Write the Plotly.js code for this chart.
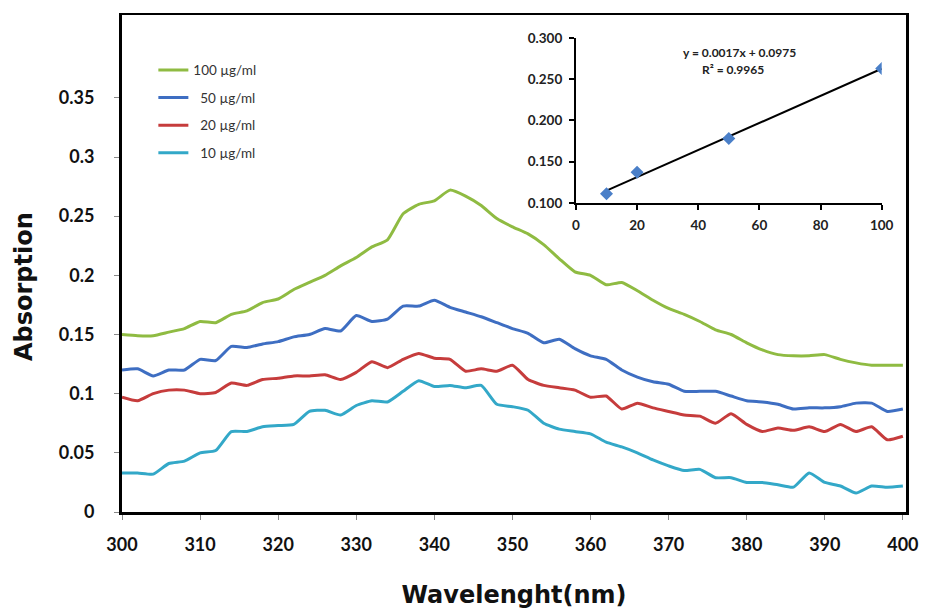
<!DOCTYPE html>
<html>
<head>
<meta charset="utf-8">
<script src="https://cdn.plot.ly/plotly-3.0.1.min.js"></script>
<style>html,body{margin:0;padding:0;background:#fff;}#chart{width:925px;height:614px;}</style>
</head>
<body>
<div id="chart"></div>
<script>
// Wavelength grid (nm)
var wavelength = [300,302,304,306,308,310,312,314,316,318,320,322,324,326,328,330,332,334,336,338,340,342,344,346,348,350,352,354,356,358,360,362,364,366,368,370,372,374,376,378,380,382,384,386,388,390,392,394,396,398,400];

var abs100 = [0.150,0.149,0.149,0.152,0.155,0.161,0.160,0.167,0.170,0.177,0.180,0.188,0.194,0.200,0.208,0.215,0.224,0.230,0.252,0.260,0.263,0.272,0.267,0.259,0.248,0.241,0.235,0.226,0.214,0.203,0.200,0.192,0.194,0.187,0.179,0.172,0.167,0.161,0.154,0.150,0.143,0.137,0.133,0.132,0.132,0.133,0.129,0.126,0.124,0.124,0.124];
var abs50 = [0.120,0.121,0.115,0.120,0.120,0.129,0.128,0.140,0.139,0.142,0.144,0.148,0.150,0.155,0.153,0.166,0.161,0.163,0.174,0.174,0.179,0.173,0.169,0.165,0.160,0.155,0.151,0.143,0.146,0.138,0.132,0.129,0.120,0.114,0.110,0.108,0.102,0.102,0.102,0.098,0.094,0.093,0.091,0.087,0.088,0.088,0.089,0.092,0.092,0.085,0.087];
var abs20 = [0.097,0.094,0.100,0.103,0.103,0.100,0.101,0.109,0.107,0.112,0.113,0.115,0.115,0.116,0.112,0.118,0.127,0.122,0.129,0.134,0.130,0.129,0.119,0.121,0.119,0.124,0.112,0.107,0.105,0.103,0.097,0.098,0.087,0.092,0.088,0.085,0.082,0.081,0.075,0.083,0.074,0.068,0.071,0.069,0.072,0.068,0.074,0.068,0.072,0.061,0.064];
var abs10 = [0.033,0.033,0.032,0.041,0.043,0.050,0.052,0.068,0.068,0.072,0.073,0.074,0.085,0.086,0.082,0.090,0.094,0.093,0.102,0.111,0.106,0.107,0.105,0.107,0.091,0.089,0.086,0.075,0.070,0.068,0.066,0.059,0.055,0.050,0.044,0.039,0.035,0.036,0.029,0.029,0.025,0.025,0.023,0.021,0.033,0.025,0.022,0.016,0.022,0.021,0.022];

var seriesNames = ["100\u00a0µg/ml", "\u00a0\u00a050\u00a0µg/ml", "\u00a0\u00a020\u00a0µg/ml", "\u00a0\u00a010\u00a0µg/ml"];

// Inset calibration data
var concentration = [10, 20, 50, 100];
var peakAbs = [0.111, 0.137, 0.178, 0.263];

var yTickVals = [0, 0.05, 0.1, 0.15, 0.2, 0.25, 0.3, 0.35];
var yTickText = ["0", "0.05", "0.1", "0.15", "0.2", "0.25", "0.3", "0.35"];
var xTickVals = [300,310,320,330,340,350,360,370,380,390,400];

// least-squares fit for the inset trendline
function fit(xs, ys) {
  var n = xs.length, mx = 0, my = 0;
  for (var i = 0; i < n; i++) { mx += xs[i]; my += ys[i]; }
  mx /= n; my /= n;
  var sxx = 0, sxy = 0;
  for (var j = 0; j < n; j++) { sxx += (xs[j]-mx)*(xs[j]-mx); sxy += (xs[j]-mx)*(ys[j]-my); }
  var b = sxy / sxx; return {slope: b, intercept: my - b*mx};
}
var f = fit(concentration, peakAbs);
var trendX = [Math.min.apply(null, concentration), Math.max.apply(null, concentration)];
var trendY = trendX.map(function(x){ return f.intercept + f.slope*x; });

var colors = ["#8fbb42", "#3e6ec2", "#c63c3c", "#33a8c8"];
var allSeries = [abs100, abs50, abs20, abs10];

var traces = allSeries.map(function(s, i){
  return {x: wavelength, y: s, type: 'scatter', mode: 'lines', name: seriesNames[i],
    legendgroup: 'g'+i, line: {color: colors[i], width: 3, shape: 'spline', smoothing: 0.5},
    xaxis: 'x', yaxis: 'y'};
});
traces.push({x: trendX, y: trendY, type: 'scatter', mode: 'lines', showlegend: false,
  line: {color: '#000', width: 2}, xaxis: 'x2', yaxis: 'y2', hoverinfo: 'skip'});
traces.push({x: concentration, y: peakAbs, type: 'scatter', mode: 'markers', showlegend: false,
  marker: {symbol: 'diamond', size: 10, color: '#4a7fc8'}, xaxis: 'x2', yaxis: 'y2'});

var tickFont = {family: 'Lato, "Liberation Sans", sans-serif', size: 18, color: '#111', weight: 'bold'};
var insetFont = {family: 'Lato, "Liberation Sans", sans-serif', size: 13.5, color: '#222', weight: 'bold'};
var titleFont = {family: '"DejaVu Sans", sans-serif', size: 24, color: '#111', weight: 'bold'};

var layout = {
  width: 925, height: 614,
  margin: {l: 122, r: 19, t: 15, b: 102},
  paper_bgcolor: '#fff', plot_bgcolor: '#fff',
  showlegend: true,
  legend: {x: 0.040, y: 0.92, xanchor: 'left', yanchor: 'top', bgcolor: 'rgba(0,0,0,0)',
    font: {family: 'Lato, "Liberation Sans", sans-serif', size: 13.5, color: '#333'},
    tracegroupgap: 7, traceorder: 'grouped'},
  xaxis: {range: [300, 400.4], tickvals: xTickVals, showgrid: false, zeroline: false,
    showline: true, linecolor: '#000', linewidth: 2.5, mirror: true,
    ticks: 'outside', ticklen: 5, tickcolor: '#888', tickwidth: 1,
    tickfont: tickFont, ticklabelstandoff: 10,
    title: {text: 'Wavelenght(nm)', font: titleFont, standoff: 32}},
  yaxis: {range: [0, 0.42], tickvals: yTickVals, ticktext: yTickText, showgrid: false, zeroline: false,
    showline: true, linecolor: '#000', linewidth: 3, mirror: true,
    ticks: 'outside', ticklen: 5, tickcolor: '#888', tickwidth: 1,
    tickfont: tickFont, ticklabelstandoff: 16},
  xaxis2: {domain: [0.579, 0.969], anchor: 'y2', range: [0, 100], dtick: 20, tick0: 0,
    showgrid: false, zeroline: false, showline: true, linecolor: '#000', linewidth: 2,
    ticks: 'outside', ticklen: 5, tickcolor: '#000', tickwidth: 2, tickfont: insetFont, ticklabelstandoff: 4},
  yaxis2: {domain: [0.622, 0.954], anchor: 'x2', range: [0.1, 0.3], dtick: 0.05, tick0: 0.1, tickformat: '.3f',
    showgrid: false, zeroline: false, showline: true, linecolor: '#000', linewidth: 2,
    ticks: 'outside', ticklen: 5, tickcolor: '#000', tickwidth: 2, tickfont: insetFont, ticklabelstandoff: 4},
  annotations: [
    {xref: 'paper', yref: 'paper', x: -0.125, y: 0.4527, xanchor: 'center', yanchor: 'middle',
      text: 'Absorption', textangle: -90, showarrow: false, font: titleFont},
    {xref: 'x2', yref: 'y2', x: 53.6, y: 0.2826, text: 'y = 0.0017x + 0.0975', showarrow: false,
      font: {family: 'Lato, "Liberation Sans", sans-serif', size: 12, color: '#222', weight: 'bold'}},
    {xref: 'x2', yref: 'y2', x: 51.3, y: 0.2618, text: 'R² = 0.9965', showarrow: false,
      font: {family: 'Lato, "Liberation Sans", sans-serif', size: 12, color: '#222', weight: 'bold'}}
  ]
};

Plotly.newPlot('chart', traces, layout, {displayModeBar: false, staticPlot: true});
</script>
</body>
</html>
